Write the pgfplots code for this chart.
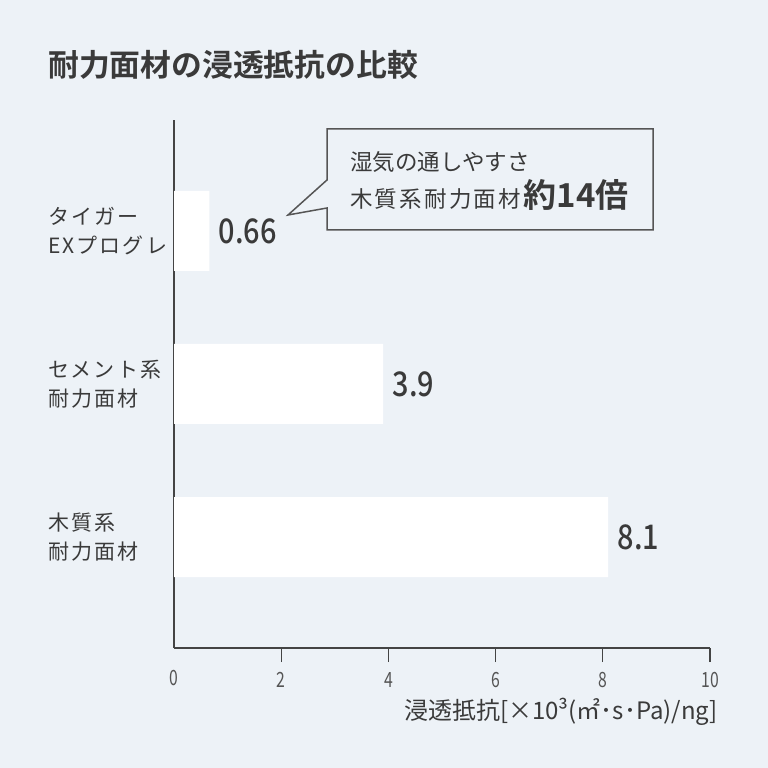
\documentclass[border=0pt]{standalone}
\usepackage{pgfplots}
\pgfplotsset{compat=1.18}
\usepackage{fontspec}
\setmainfont{Noto Sans CJK JP}[BoldFont={Noto Sans CJK JP Bold}]
\newfontfamily\medfont{Noto Sans CJK JP Medium}[FakeStretch=0.85]
\newfontfamily\tickfont{Noto Sans CJK JP}[FakeStretch=0.75]
\newfontfamily\spfont{Noto Sans CJK JP}[LetterSpace=10]
\definecolor{bg}{RGB}{237,242,247}
\definecolor{txt}{RGB}{58,58,58}
\definecolor{axl}{RGB}{68,68,68}
\definecolor{tkl}{RGB}{85,85,85}

\begin{document}
\begin{tikzpicture}
  \fill[bg] (0pt,0pt) rectangle (768pt,768pt);
  \useasboundingbox (0pt,0pt) rectangle (768pt,768pt);

  % title
  \node[anchor=west, inner sep=0pt, text=txt, font=\bfseries\fontsize{30.8}{30.8}\selectfont]
    at (48pt,703pt) {耐力面材の浸透抵抗の比較};

  \begin{axis}[
      at={(174pt,120pt)}, anchor=south west,
      scale only axis, width=536pt, height=528pt,
      xbar, bar width=80pt,
      xmin=0, xmax=10, ymin=-0.725, ymax=2.725,
      xtick={2,4,...,10},
      extra x ticks={0},
      extra x tick style={major tick length=0pt, xticklabel style={yshift=-12pt}},
      ytick={0,1,2},
      yticklabels={{木質系\\耐力面材},{セメント系\\耐力面材},{タイガー\\EXプログレ}},
      axis x line*=bottom, axis y line*=left,
      axis line style={draw=axl, line width=2pt},
      x tick style={draw=axl, line width=1.2pt},
      y tick style={draw=none},
      major tick length=14pt, tick align=outside,
      /pgf/number format/assume math mode=true,
      xticklabel style={font=\tickfont\fontsize{21}{21}\selectfont, text=tkl,
        anchor=center, yshift=-18pt},
      yticklabel style={anchor=west, align=left, inner sep=0pt, xshift=-112pt,
        font=\spfont\fontsize{21}{29}\selectfont, text=txt},
      xlabel={浸透抵抗[×10³(㎡･s･Pa)/ng]},
      xlabel style={at={(axis description cs:1,0)}, anchor=east, inner sep=0pt,
        xshift=8pt, yshift=-64pt, font=\fontsize{24}{24}\selectfont, text=txt},
      point meta=explicit symbolic,
      nodes near coords,
      nodes near coords style={anchor=west, xshift=6pt, text=txt,
        font=\medfont\fontsize{34}{34}\selectfont},
      clip=false,
    ]
    \addplot[fill=white, draw=none] coordinates {
        (8.1,0)  [8.1]
        (3.9,1)  [3.9]
        (0.66,2) [0.66]
      };
  \end{axis}

  % callout
  \draw[draw=tkl, line width=1.5pt, fill=bg, line join=miter]
    (327pt,639pt) -- (327pt,588pt) -- (288pt,553pt) -- (327pt,560pt)
    -- (327pt,538pt) -- (653pt,538pt) -- (653pt,639pt) -- cycle;
  \node[anchor=base west, inner sep=0pt, text=txt, font=\fontsize{22.5}{22.5}\selectfont]
    at (350pt,597pt) {湿気の通しやすさ};
  \node[anchor=base west, inner sep=0pt, text=txt, font=\spfont\fontsize{22.5}{22.5}\selectfont]
    (a) at (350pt,560pt) {木質系耐力面材};
  \node[anchor=base west, inner sep=0pt, text=txt, font=\bfseries\fontsize{33}{33}\selectfont]
    at ([xshift=2pt]a.base east) {約14倍};
\end{tikzpicture}
\end{document}
